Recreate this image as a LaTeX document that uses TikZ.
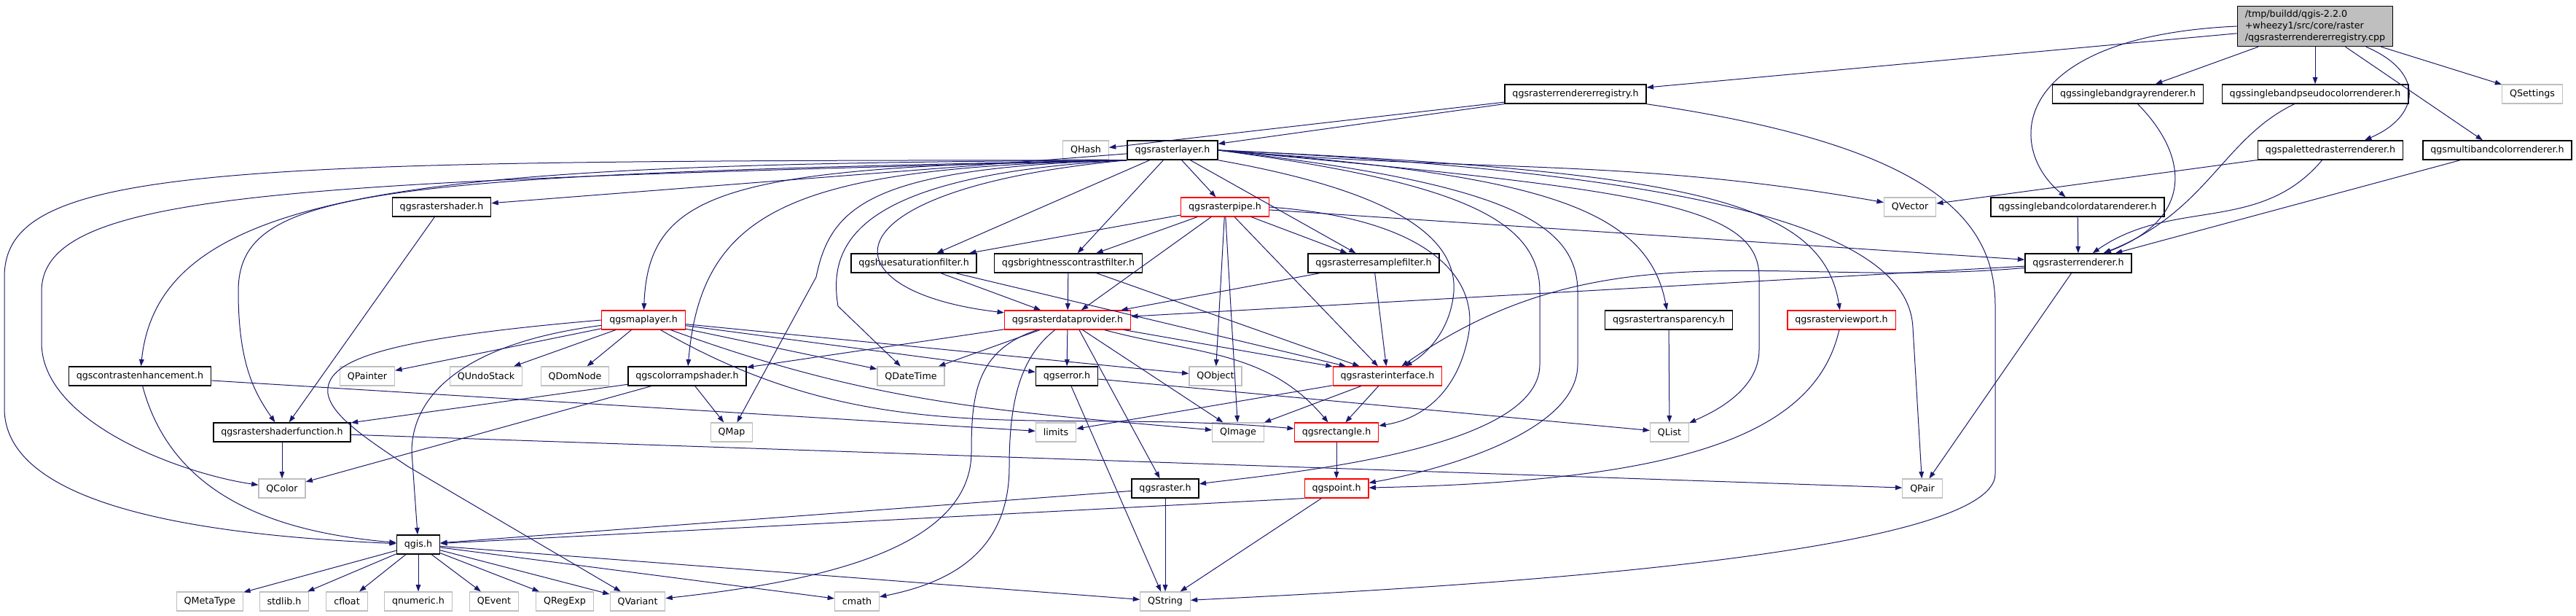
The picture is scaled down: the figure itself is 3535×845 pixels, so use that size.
\documentclass[tikz,border=0pt]{standalone}
\usepackage{fontspec}
\setmainfont{DejaVu Sans}
\usetikzlibrary{arrows.meta}
\definecolor{edgeblue}{HTML}{191970}
\definecolor{extgray}{HTML}{BFBFBF}
\tikzset{
  hdr/.style={rectangle, draw=black, line width=1.1pt, fill=white, inner xsep=7.8pt, inner ysep=0pt,
    minimum height=19.5pt, font=\fontsize{9.5}{12}\selectfont},
  trunc/.style={hdr, draw=red, line width=0.9pt},
  sys/.style={hdr, draw=extgray, line width=0.9pt},
  inc/.style={draw=edgeblue, line width=0.75pt, -{Triangle[length=7pt,width=5pt]}},
}
\begin{document}
\begin{tikzpicture}[x=0.75pt, y=-0.75pt]
  \useasboundingbox (0,0) rectangle (3535,845);

  \node[hdr, fill=extgray, align=left, inner ysep=4pt] (root) at (3177,36)
    {/tmp/buildd/qgis-2.2.0\\+wheezy1/src/core/raster\\/qgsrasterrendererregistry.cpp};

  % documented headers
  \foreach \n/\x/\y/\t in {reg/2162/129/qgsrasterrendererregistry.h, gray/2920/129/qgssinglebandgrayrenderer.h,
      pseudo/3177/129/qgssinglebandpseudocolorrenderer.h, layer/1609/206/qgsrasterlayer.h,
      paletted/3198/206/qgspalettedrasterrenderer.h, multi/3427/206/qgsmultibandcolorrenderer.h,
      shader/606/284/qgsrastershader.h, colordata/2851/284/qgssinglebandcolordatarenderer.h,
      hue/1254/361/qgshuesaturationfilter.h, bright/1466/361/qgsbrightnesscontrastfilter.h,
      resample/1885/361/qgsrasterresamplefilter.h, renderer/2852/361/qgsrasterrenderer.h,
      transp/2290/439/qgsrastertransparency.h, contrast/192/516/qgscontrastenhancement.h,
      ramp/943/516/qgscolorrampshader.h, error/1464/516/qgserror.h,
      shaderfn/387/593/qgsrastershaderfunction.h, raster/1599/670/qgsraster.h, qgis/574/747/qgis.h}
    \node[hdr] (\n) at (\x,\y) {\t};

  % headers with hidden includes
  \foreach \n/\x/\y/\t in {pipe/1681/284/qgsrasterpipe.h, maplayer/883/439/qgsmaplayer.h,
      provider/1465/439/qgsrasterdataprovider.h, viewport/2527/439/qgsrasterviewport.h,
      iface/1904/516/qgsrasterinterface.h, rect/1834/593/qgsrectangle.h, point/1834/670/qgspoint.h}
    \node[trunc] (\n) at (\x,\y) {\t};

  % system headers
  \foreach \n/\x/\y/\t in {qsettings/3475/129/QSettings, qhash/1490/206/QHash, qvector/2621/284/QVector,
      qpainter/504/516/QPainter, qundostack/667/516/QUndoStack, qdomnode/789/516/QDomNode,
      qdatetime/1250/516/QDateTime, qobject/1668/516/QObject, qmap/1004/593/QMap,
      limits/1449/593/limits, qimage/1699/593/QImage, qlist/2291/593/QList,
      qcolor/387/670/QColor, qpair/2638/670/QPair}
    \node[sys] (\n) at (\x,\y) {\t};
  \foreach \n/\x/\t in {qmetatype/288/QMetaType, stdlib/390/stdlib.h, cfloat/476/cfloat,
      qnumeric/574/qnumeric.h, qevent/678/QEvent, qregexp/775/QRegExp, qvariant/875/QVariant,
      cmath/1176/cmath, qstring/1599/QString}
    \node[sys] (\n) at (\x,825) {\t};

  % root
  \foreach \n in {reg, gray, pseudo, multi, qsettings}
    \draw[inc] (root) -- (\n);
  \draw[inc] (root.-22) .. controls (3330,100) and (3320,160) .. ([xshift=-40pt]paletted.north east);
  \draw[inc] (root.west) .. controls (2760,50) and (2750,200) .. (colordata);

  % registry
  \draw[inc] (reg) -- (qhash);
  \draw[inc] (reg) -- (layer);
  \draw[inc] (reg.south east) .. controls (2650,200) and (2738,300) .. (2738,420) -- (2738,650)
    .. controls (2738,770) and (1900,810) .. (qstring);

  % renderers
  \draw[inc] (gray) .. controls (3005,215) and (3010,300) .. (renderer);
  \draw[inc] (pseudo) .. controls (3050,190) and (3030,290) .. (renderer);
  \draw[inc] (paletted) to[out=-130,in=35] (renderer);
  \draw[inc] (multi) -- (renderer);
  \draw[inc] (colordata) -- (renderer);
  \draw[inc] (paletted) -- (qvector);
  \draw[inc] (renderer) -- (provider);
  \draw[inc] (renderer) to[out=185,in=35] (iface);
  \draw[inc] (renderer) -- (qpair);

  % raster layer, to the left
  \draw[inc] (layer.south west) .. controls (300,220) and (6,225) .. (6,380) -- (6,560)
    .. controls (6,700) and (300,735) .. (qgis);
  \draw[inc] (layer.south west) .. controls (400,250) and (57,260) .. (57,400) -- (57,470)
    .. controls (57,580) and (250,650) .. (qcolor);
  \draw[inc] (layer.south west) .. controls (600,225) and (220,250) .. (contrast);
  \draw[inc] (layer.south west) .. controls (500,240) and (327,260) .. (327,400)
    .. controls (327,500) and (350,540) .. (shaderfn);
  \draw[inc] (layer) -- (shader);
  \draw[inc] (layer.south west) .. controls (1000,228) and (890,260) .. (maplayer);
  \draw[inc] (layer.south west) .. controls (1100,230) and (963,280) .. (ramp);
  \draw[inc] (layer.south west) .. controls (1200,230) and (1140,280) .. (1120,380) -- (qmap);
  \draw[inc] (layer.south west) .. controls (1180,240) and (1135,330) .. (1150,420) -- (qdatetime);
  \draw[inc] (layer.south west) .. controls (1120,260) and (1130,400) .. (provider);
  \foreach \n in {hue, bright, pipe, resample}
    \draw[inc] (layer) -- (\n);

  % raster layer, to the right
  \draw[inc] (layer.south east) .. controls (1900,260) and (2000,320) .. (1995,400)
    .. controls (1990,460) and (1950,490) .. (iface);
  \draw[inc] (layer.east) to[out=-5,in=170] (qvector);
  \draw[inc] (layer.east) .. controls (2100,240) and (2260,280) .. (transp);
  \draw[inc] (layer.east) .. controls (2300,235) and (2500,270) .. (viewport);
  \draw[inc] (layer.east) .. controls (2400,240) and (2620,330) .. (2625,450) -- (qpair);
  \draw[inc] (layer.east) .. controls (2250,260) and (2414,280) .. (2414,380) -- (2414,480)
    .. controls (2414,540) and (2340,570) .. (qlist);
  \draw[inc] (layer.east) .. controls (2050,250) and (2165,300) .. (2165,400) -- (2165,500)
    .. controls (2165,600) and (1950,650) .. (point);
  \draw[inc] (layer.east) .. controls (2000,250) and (2113,300) .. (2113,400) -- (2113,500)
    .. controls (2113,620) and (1750,650) .. (raster);

  % pipe and filters
  \foreach \n in {hue, bright, provider, qobject, qimage, iface, resample, renderer}
    \draw[inc] (pipe) -- (\n);
  \draw[inc] (pipe.east) .. controls (1960,300) and (2030,380) .. (2015,460)
    .. controls (2000,540) and (1950,575) .. (rect);
  \foreach \f in {hue, bright, resample} {
    \draw[inc] (\f) -- (provider);
    \draw[inc] (\f) -- (iface);
  }

  % data provider
  \foreach \n in {ramp, qdatetime, error, qimage, iface}
    \draw[inc] (provider) -- (\n);
  \draw[inc] ([xshift=12pt]provider.south) -- (raster);
  \draw[inc] (provider) .. controls (1340,480) and (1333,540) .. (1333,620)
    .. controls (1333,760) and (1100,800) .. (qvariant);
  \draw[inc] (provider) .. controls (1400,490) and (1385,550) .. (1385,640)
    .. controls (1385,760) and (1300,800) .. (cmath);
  \draw[inc] (provider) to[out=-15,in=130] (rect);

  % map layer
  \foreach \n in {qpainter, qundostack, qdomnode, qdatetime, error, qobject}
    \draw[inc] (maplayer) -- (\n);
  \draw[inc] (maplayer) .. controls (640,470) and (565,540) .. (565,620) -- (qgis);
  \draw[inc] (maplayer.west) .. controls (520,465) and (445,495) .. (450,540)
    .. controls (455,570) and (500,600) .. (560,640) -- (qvariant);
  \draw[inc] (maplayer) to[out=-20,in=175] (qimage);
  \draw[inc] (maplayer) to[out=-30,in=175] (rect);

  % the rest
  \draw[inc] (contrast) to[out=-75,in=175] (qgis);
  \draw[inc] (contrast) -- (limits);
  \draw[inc] (shader) -- (shaderfn);
  \draw[inc] (shaderfn) -- (qcolor);
  \draw[inc] (shaderfn) -- (qpair);
  \foreach \n in {shaderfn, qcolor, qmap}
    \draw[inc] (ramp) -- (\n);
  \foreach \n in {limits, qimage, rect}
    \draw[inc] (iface) -- (\n);
  \draw[inc] (rect) -- (point);
  \draw[inc] (viewport) .. controls (2490,600) and (2300,660) .. (point);
  \draw[inc] (transp) -- (qlist);
  \draw[inc] (error) -- (qlist);
  \draw[inc] (error) -- (qstring);
  \draw[inc] (raster) -- (qgis);
  \draw[inc] (raster) -- (qstring);
  \draw[inc] (point.south west) -- (qgis);
  \draw[inc] (point) -- (qstring);
  \foreach \n in {qmetatype, stdlib, cfloat, qnumeric, qevent, qregexp, qvariant, cmath, qstring}
    \draw[inc] (qgis) -- (\n);
\end{tikzpicture}
\end{document}
